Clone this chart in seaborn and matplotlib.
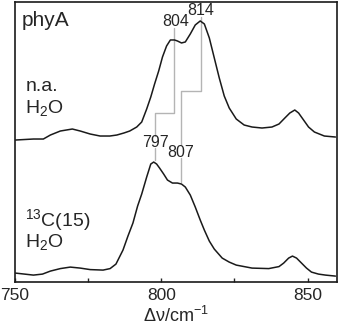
import matplotlib
matplotlib.use("Agg")
import matplotlib.pyplot as plt
import seaborn as sns
import pandas as pd

# wavenumber (cm-1) and intensity (a.u., offset already included)
wn_na = [750.2, 756.3, 759.7, 762.1, 765.5, 769.6, 772.3, 775.7, 779.1, 782.4,
         784.8, 787.2, 789.2, 791.6, 793.3, 795.0, 796.4, 797.7, 799.1, 800.4,
         801.8, 803.1, 804.5, 805.5, 806.9, 808.2, 809.9, 811.6, 813.3, 814.7,
         816.4, 818.1, 819.8, 821.5, 823.2, 825.6, 828.3, 831.0, 834.4, 837.8,
         840.2, 842.2, 843.9, 845.6, 846.9, 848.6, 850.3, 852.3, 855.7, 859.5]
int_na = [142, 143, 143, 147, 151, 153, 151, 148, 146, 146,
          147, 149, 151, 155, 160, 173, 185, 198, 211, 225,
          236, 242, 242, 241, 239, 240, 248, 257, 261, 258,
          244, 224, 204, 186, 174, 163, 157, 155, 154, 155,
          158, 164, 169, 172, 169, 162, 155, 150, 146, 145]

wn_13c = [750.2, 756.3, 759.4, 762.1, 765.5, 768.9, 772.3, 775.7, 780.1, 782.5,
          784.5, 786.9, 788.6, 790.3, 791.9, 793.3, 795.0, 796.4, 797.4, 798.4,
          799.4, 800.8, 802.1, 803.8, 805.5, 806.9, 808.2, 809.9, 811.6, 813.3,
          814.7, 816.4, 818.1, 820.8, 823.2, 825.6, 831.0, 836.7, 840.2, 841.8,
          843.5, 844.8, 846.2, 847.9, 849.6, 851.3, 853.7, 856.1, 859.5]
int_13c = [9, 7, 8, 11, 13.5, 15, 14, 12.5, 12, 13.5,
           18, 32, 46, 59, 76, 88, 105, 118, 120, 118,
           114, 108, 102, 99, 99, 98, 95, 87, 75, 62,
           52, 41, 33, 24, 20, 17, 14, 13.5, 15.5, 19,
           24, 26, 24, 19, 14, 10, 8, 7, 6]

# peak labels: upper spectrum -> lower spectrum
peaks_na = [804.5, 813.6]
peaks_13c = [797.9, 806.8]
labels_na = ["804", "814"]
labels_13c = ["797", "807"]

df = pd.concat([
    pd.DataFrame({"wn": wn_na, "I": int_na, "s": "na"}),
    pd.DataFrame({"wn": wn_13c, "I": int_13c, "s": "13c"}),
])

sns.set_style("ticks")
plt.rcParams["font.family"] = ["Liberation Sans", "DejaVu Sans"]
plt.rcParams["mathtext.default"] = "regular"

fig = plt.figure(figsize=(3.4, 3.25), dpi=100, facecolor="white")
ax = fig.add_axes([0.044, 0.132, 0.947, 0.862])

sns.lineplot(data=df, x="wn", y="I", hue="s", palette=["#1a1a1a", "#1a1a1a"],
             linewidth=1.1, legend=False, ax=ax, sort=False)

# guide lines connecting corresponding peaks
gray = "#b4b4b4"
step_y = [169, 191]
top_y = [254, 265]
low_top = [146, 137]
low_bot = [(134, 122), (124, 100)]
for p1, p2, sy, ty, lt, (b1, b2) in zip(peaks_na, peaks_13c, step_y, top_y, low_top, low_bot):
    ax.plot([p1, p1, p2, p2], [ty, sy, sy, lt], color=gray, lw=1.0, zorder=1)
    ax.plot([p2, p2], [b1, b2], color=gray, lw=1.0, zorder=1)

lab_kw = dict(ha="center", va="baseline", fontsize=11.5)
ax.text(804.9, 256, labels_na[0], **lab_kw)
ax.text(813.5, 267, labels_na[1], **lab_kw)
ax.text(797.9, 135, labels_13c[0], **lab_kw)
ax.text(806.5, 125, labels_13c[1], **lab_kw)

txt_kw = dict(ha="left", va="baseline", fontsize=14)
ax.text(752.3, 256, "phyA", ha="left", va="baseline", fontsize=15)
ax.text(753.6, 191, "n.a.", **txt_kw)
ax.text(753.6, 169, "H$_2$O", **txt_kw)
ax.text(753.6, 56, "$^{13}$C(15)", **txt_kw)
ax.text(753.6, 35, "H$_2$O", **txt_kw)

ax.set_xlim(750, 860)
ax.set_ylim(0, 280)
ax.set_xticks([750, 800, 850])
ax.set_xticks([775, 825], minor=True)
ax.set_yticks([])
ax.tick_params(axis="x", which="both", direction="in", length=3, width=1,
               labelsize=12.5, pad=4)
ax.set_xlabel("Δν/cm$^{-1}$", fontsize=13, labelpad=2)
ax.set_ylabel("")
for s in ax.spines.values():
    s.set_visible(True)
    s.set_linewidth(1.2)
    s.set_color("#1a1a1a")

fig.savefig("out.png", dpi=100, facecolor="white")
plt.close(fig)
